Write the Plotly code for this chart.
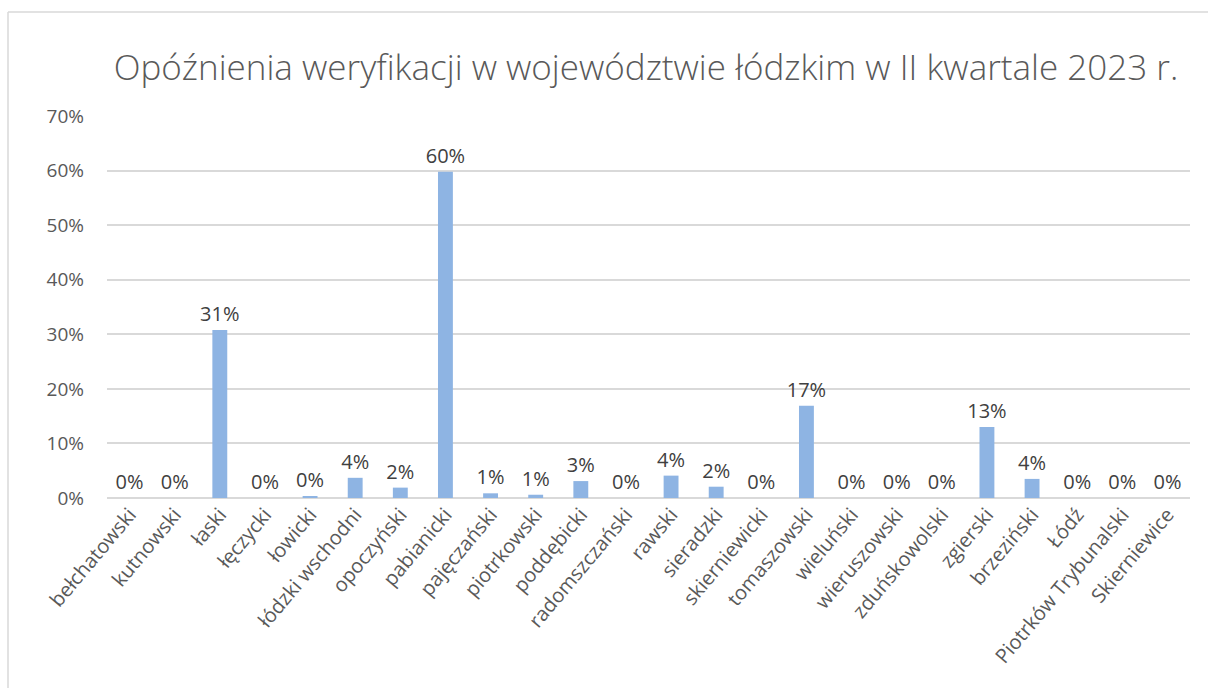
import plotly.graph_objects as go

categories = ["bełchatowski", "kutnowski", "łaski", "łęczycki", "łowicki", "łódzki wschodni",
              "opoczyński", "pabianicki", "pajęczański", "piotrkowski", "poddębicki",
              "radomszczański", "rawski", "sieradzki", "skierniewicki", "tomaszowski",
              "wieluński", "wieruszowski", "zduńskowolski", "zgierski", "brzeziński",
              "Łódź", "Piotrków Trybunalski", "Skierniewice"]
values = [0.0, 0.0, 0.308, 0.0, 0.0025, 0.037, 0.019, 0.598, 0.0086, 0.006, 0.031,
          0.0, 0.041, 0.0207, 0.0, 0.169, 0.0, 0.0, 0.0, 0.130, 0.035, 0.0, 0.0, 0.0]
y_ticks = [0, 0.1, 0.2, 0.3, 0.4, 0.5, 0.6, 0.7]
y_tick_labels = ["0%", "10%", "20%", "30%", "40%", "50%", "60%", "70%"]
title = "Opóźnienia weryfikacji w województwie łódzkim w II kwartale 2023 r."

W, H = 1208, 688
# plot area in window pixels: x 107..1190, y 116..498
L, T = 107, 116
R, B = W - 1190, H - 498

fig = go.Figure(go.Bar(
    x=categories, y=values,
    marker=dict(color="#8eb4e3", line=dict(width=0)),
    width=0.33,
    text=[f"{v*100:.0f}%" for v in values],
    textposition="outside",
    constraintext="none",
    textfont=dict(size=20, color="#404040"),
    cliponaxis=False,
))

pw = W - L - R
ph = H - T - B
bx = (8 - L) / pw
by = (H - B - 12) / ph
# frame: top and left edges only (others run off the picture)
fig.add_shape(type="line", xref="paper", yref="paper",
              x0=bx, x1=(W + 20 - L) / pw, y0=by, y1=by,
              line=dict(color="#d9d9d9", width=1.5), layer="below")
fig.add_shape(type="line", xref="paper", yref="paper",
              x0=bx, x1=bx, y0=by, y1=(H - B - (H + 20)) / ph,
              line=dict(color="#d9d9d9", width=1.5), layer="below")

fig.update_layout(
    width=W, height=H,
    margin=dict(l=L, r=R, t=T, b=B),
    paper_bgcolor="white", plot_bgcolor="white",
    font=dict(family="Open Sans, Liberation Sans, sans-serif", color="#595959"),
    title=dict(text=title, x=646 / W, xanchor="center", y=1 - 68 / H,
               yanchor="middle", font=dict(size=35, color="#595959", weight=300)),
    showlegend=False,
    bargap=0.67,
)
fig.update_xaxes(tickangle=-50, tickfont=dict(size=20, color="#595959"),
                 showgrid=False, showline=False, ticks="")
fig.update_yaxes(range=[0, 0.7], tickvals=y_ticks, ticktext=y_tick_labels,
                 tickfont=dict(size=19, color="#595959"),
                 showgrid=True, gridcolor="#d9d9d9", gridwidth=1.5,
                 zeroline=True, zerolinecolor="#d9d9d9", zerolinewidth=1.5,
                 ticks="", ticklabelstandoff=22)
fig.write_html("out.html", config={"displayModeBar": False},
               post_script="document.body.style.margin='0';document.body.style.overflow='hidden';")
